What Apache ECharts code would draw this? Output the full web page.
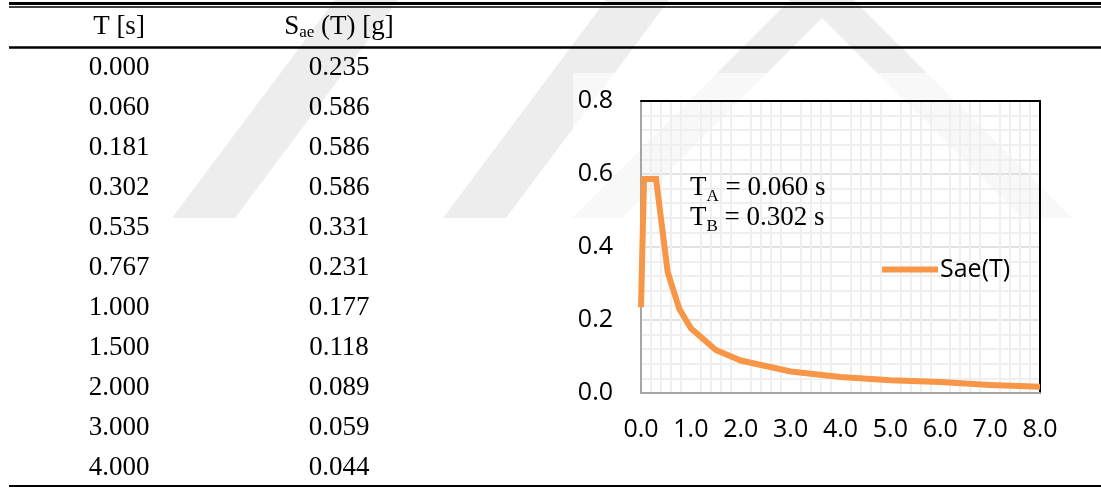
<!DOCTYPE html>
<html>
<head>
<meta charset="utf-8">
<title>Elastic design spectrum Sae(T)</title>
<script src="https://cdn.jsdelivr.net/npm/echarts@6/dist/echarts.min.js"></script>
<style>
  html, body { margin: 0; padding: 0; background: #ffffff; }
  #chart { width: 1101px; height: 488px; }
</style>
</head>
<body>
<div id="chart"></div>
<script>
// Tabulated spectrum: period T [s] and spectral acceleration Sae(T) [g]
const tablePeriods = [0.000, 0.060, 0.181, 0.302, 0.535, 0.767, 1.000, 1.500, 2.000, 3.000, 4.000];
const tableSae     = [0.235, 0.586, 0.586, 0.586, 0.331, 0.231, 0.177, 0.118, 0.089, 0.059, 0.044];

// Long-period tail shown on the plot only
const tailPeriods = [5.0, 6.0, 7.0, 8.0];
const tailSae     = [0.035, 0.030, 0.022, 0.017];

// Column headers and corner periods
const headerPeriod = 'T [s]';
const headerSae = { main: 'S', sub: 'ae', rest: ' (T) [g]' };
const cornerLabels = [
  { sym: 'T', sub: 'A', value: 0.060 },
  { sym: 'T', sub: 'B', value: 0.302 }
];
const seriesName = 'Sae(T)';

// Axis tick values
const xTicks = [0, 1, 2, 3, 4, 5, 6, 7, 8];
const yTicks = [0, 0.2, 0.4, 0.6, 0.8];

const curve = tablePeriods.map((t, i) => [t, tableSae[i]])
  .concat(tailPeriods.map((t, i) => [t, tailSae[i]]));

const SERIF = '"Liberation Serif", "Times New Roman", serif';
const SANS = '"Open Sans", "Noto Sans", sans-serif';
const ORANGE = '#f79646';

const chart = echarts.init(document.getElementById('chart'), null, { renderer: 'canvas' });

const elements = [];

// faint background emblem
const emblemFill = '#ededed';
elements.push(
  { type: 'polygon', z: -10, silent: true,
    shape: { points: [[172, 218], [235, 218], [398, 0], [335, 0]] }, style: { fill: emblemFill } },
  { type: 'polygon', z: -10, silent: true,
    shape: { points: [[443, 218], [506, 218], [669, 0], [606, 0]] }, style: { fill: emblemFill } },
  { type: 'polygon', z: -10, silent: true,
    shape: { points: [[572, 218], [822, -32], [1072, 218], [1022, 218], [822, 18], [622, 218]] },
    style: { fill: emblemFill } },
  // chart box sits over the emblem
  { type: 'rect', z: -5, silent: true,
    shape: { x: 573, y: 73, width: 528, height: 400 }, style: { fill: 'rgba(255,255,255,0.6)' } }
);

// table rules
const ruleLeft = 9, ruleRight = 1101;
function rule(y, w) {
  elements.push({ type: 'line', silent: true, z: 5,
    shape: { x1: ruleLeft, y1: y, x2: ruleRight, y2: y },
    style: { stroke: '#000', lineWidth: w } });
}
rule(3.5, 3);
rule(7, 1.5);
rule(47.5, 2.5);
rule(486, 2);

// table header
const colT = 119, colS = 339, headerY = 27;
elements.push({
  type: 'text', x: colT, y: headerY, z: 5,
  style: { text: headerPeriod, font: '27px ' + SERIF, fill: '#000',
    align: 'center', verticalAlign: 'middle', textAlign: 'center', textVerticalAlign: 'middle' }
});
elements.push({
  type: 'text', x: colS, y: headerY, z: 5,
  style: {
    text: '{m|' + headerSae.main + '}{s|' + headerSae.sub + '}{m|' + headerSae.rest + '}',
    align: 'center', verticalAlign: 'middle', textAlign: 'center', textVerticalAlign: 'middle',
    rich: {
      m: { fontSize: 27, fontFamily: SERIF, fill: '#000', color: '#000', lineHeight: 28, verticalAlign: 'middle' },
      s: { fontSize: 17, fontFamily: SERIF, fill: '#000', color: '#000', verticalAlign: 'bottom' }
    }
  }
});

// table body
const rowTop = 68, rowStep = 40;
tablePeriods.forEach((t, i) => {
  const y = rowTop + i * rowStep;
  elements.push({ type: 'text', x: colT, y: y, z: 5,
    style: { text: t.toFixed(3), font: '27px ' + SERIF, fill: '#000',
      align: 'center', verticalAlign: 'middle', textAlign: 'center', textVerticalAlign: 'middle' } });
  elements.push({ type: 'text', x: colS, y: y, z: 5,
    style: { text: tableSae[i].toFixed(3), font: '27px ' + SERIF, fill: '#000',
      align: 'center', verticalAlign: 'middle', textAlign: 'center', textVerticalAlign: 'middle' } });
});

// corner period notes inside the plot
cornerLabels.forEach((c, i) => {
  elements.push({
    type: 'text', x: 690, y: 187.5 + i * 30, z: 20,
    style: {
      text: '{m|' + c.sym + '}{s|' + c.sub + '}{m| = ' + c.value.toFixed(3) + ' s}',
      align: 'left', verticalAlign: 'middle', textAlign: 'left', textVerticalAlign: 'middle',
      rich: {
        m: { fontSize: 27, fontFamily: SERIF, fill: '#000', color: '#000', lineHeight: 36, verticalAlign: 'middle' },
        s: { fontSize: 17, fontFamily: SERIF, fill: '#000', color: '#000', verticalAlign: 'bottom' }
      }
    }
  });
});

const fmt1 = v => Number(v).toFixed(1);

const option = {
  animation: false,
  backgroundColor: 'transparent',
  grid: { left: 641, top: 101, right: 61, bottom: 95, containLabel: false },
  legend: {
    data: [seriesName],
    left: 882, top: 257, padding: 0,
    icon: 'rect', itemWidth: 56, itemHeight: 6, itemGap: 0,
    textStyle: { fontSize: 25, fontFamily: SANS, color: '#000', padding: [0, 0, 0, -3] },
    selectedMode: false
  },
  xAxis: [
    {
      type: 'value', min: xTicks[0], max: xTicks[xTicks.length - 1], interval: 1,
      axisLine: { show: true, onZero: false, lineStyle: { color: '#a6a6a6', width: 2 } },
      axisTick: { show: false },
      axisLabel: { formatter: fmt1, fontSize: 25, fontFamily: SANS, color: '#000', margin: 24 },
      splitLine: { show: false },
      minorTick: { show: false, splitNumber: 5 },
      minorSplitLine: { show: true, lineStyle: { color: '#efefef', width: 2 } }
    },
    {
      type: 'value', position: 'top', min: xTicks[0], max: xTicks[xTicks.length - 1],
      axisLine: { show: true, onZero: false, lineStyle: { color: '#000', width: 2 } },
      axisTick: { show: false }, axisLabel: { show: false }, splitLine: { show: false }
    }
  ],
  yAxis: [
    {
      type: 'value', min: yTicks[0], max: yTicks[yTicks.length - 1], interval: 0.2,
      axisLine: { show: true, onZero: false, lineStyle: { color: '#a6a6a6', width: 2 } },
      axisTick: { show: false },
      axisLabel: { formatter: fmt1, fontSize: 25, fontFamily: SANS, color: '#000', margin: 28 },
      splitLine: { show: true, lineStyle: { color: '#d9d9d9', width: 1.5 } },
      minorTick: { show: false, splitNumber: 5 },
      minorSplitLine: { show: true, lineStyle: { color: '#efefef', width: 2 } }
    },
    {
      type: 'value', position: 'right', min: yTicks[0], max: yTicks[yTicks.length - 1],
      axisLine: { show: true, onZero: false, lineStyle: { color: '#000', width: 2 } },
      axisTick: { show: false }, axisLabel: { show: false }, splitLine: { show: false }
    }
  ],
  series: [
    {
      name: seriesName, type: 'line', data: curve,
      xAxisIndex: 0, yAxisIndex: 0,
      symbol: 'none', smooth: false, clip: false,
      color: ORANGE,
      lineStyle: { color: ORANGE, width: 6, cap: 'butt', join: 'miter' },
      z: 10
    }
  ],
  graphic: { elements: elements }
};

chart.setOption(option);
</script>
</body>
</html>
